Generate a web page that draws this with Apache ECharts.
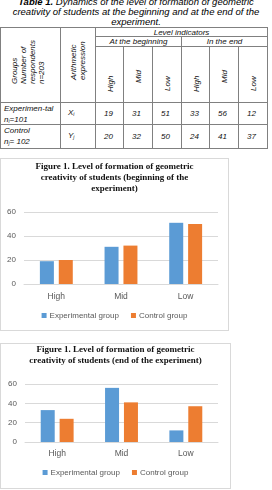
<!DOCTYPE html>
<html>
<head>
<meta charset="utf-8">
<script src="https://cdn.jsdelivr.net/npm/echarts@6/dist/echarts.min.js"></script>
<style>
  body { margin: 0; width: 272px; height: 490px; overflow: hidden; background: #fff; position: relative;
         font-family: "Liberation Sans", Arial, sans-serif; }
  #caption { position: absolute; left: 0; top: -3px; width: 272px; text-align: center; font-style: italic;
             font-size: 9.5px; line-height: 10px; color: #000; }
  #table { position: absolute; left: 0; top: 27px; width: 268px; height: 122px; }
  .cell { position: absolute; box-sizing: border-box; border-right: 1px solid #808080; border-bottom: 1px solid #808080;
          font-style: italic; font-size: 8px; color: #111; white-space: nowrap; }
  .rot { position: absolute; white-space: pre; transform: rotate(-90deg); transform-origin: 0 0;
         font-style: italic; font-size: 8px; color: #111; }
  .box { position: absolute; left: 0; box-sizing: border-box; border: 1px solid #d9d9d9; }
  .box > div { width: 100%; height: 100%; }
</style>
</head>
<body>
<div id="caption"><b>Table 1.</b> Dynamics of the level of formation of geometric<br>creativity of students at the beginning and at the end of the<br>experiment.</div>
<div id="table"></div>
<div class="box" style="top:158px;width:229px;height:173px;"><div id="chartBegin"></div></div>
<div class="box" style="top:343px;width:231px;height:146px;"><div id="chartEnd"></div></div>

<script>
const levels = ['High', 'Mid', 'Low'];
const seriesNames = ['Experimental group', 'Control group'];
const beginExperimental = [19, 31, 51];
const beginControl = [20, 32, 50];
const endExperimental = [33, 56, 12];
const endControl = [24, 41, 37];

// table grid lines (px, relative to the table box)
const colX = [0, 61, 96, 124, 153, 182, 210, 239, 268];
const rowY = [0, 10, 20, 76, 98, 122];

function addCell(parent, c0, c1, r0, r1, html, style) {
  const d = document.createElement('div');
  d.className = 'cell';
  d.style.left = colX[c0] + 'px';
  d.style.top = rowY[r0] + 'px';
  d.style.width = (colX[c1] - colX[c0]) + 'px';
  d.style.height = (rowY[r1] - rowY[r0]) + 'px';
  if (c0 === 0) d.style.borderLeft = '1px solid #808080';
  if (r0 === 0) d.style.borderTop = '1px solid #808080';
  d.innerHTML = html;
  Object.assign(d.style, style || {});
  parent.appendChild(d);
  return d;
}

function addRotated(parent, text, left, start, lineHeight) {
  const d = document.createElement('div');
  d.className = 'rot';
  d.style.left = left + 'px';
  d.style.top = start + 'px';
  d.style.lineHeight = lineHeight + 'px';
  d.textContent = text;
  parent.appendChild(d);
}

function buildTable() {
  const t = document.getElementById('table');
  addCell(t, 0, 1, 0, 3, '');
  addCell(t, 1, 2, 0, 3, '');
  addCell(t, 2, 8, 0, 1, 'Level indicators', { textAlign: 'center', lineHeight: '9px' });
  addCell(t, 2, 5, 1, 2, 'At the beginning', { textAlign: 'center', lineHeight: '9px' });
  addCell(t, 5, 8, 1, 2, 'In the end', { textAlign: 'center', lineHeight: '9px' });

  addRotated(t, 'Groups\nNumber of\nrespondents\nn=203', 10, 57, 9);
  addRotated(t, 'Arithmetic\nexpression', 69.5, 53, 8.5);

  const labelStart = { High: 65, Mid: 56, Low: 64 };
  for (let k = 0; k < 6; k++) {
    const lvl = levels[k % 3];
    addCell(t, 2 + k, 3 + k, 2, 3, '');
    const cx = (colX[2 + k] + colX[3 + k]) / 2;
    addRotated(t, lvl, cx - 4.5, labelStart[lvl], 9);
  }

  const rows = [
    { group: 'Experimen-tal<br>n<sub>i</sub>=101', expr: 'X<sub>i</sub>', vals: beginExperimental.concat(endExperimental) },
    { group: 'Control<br>n<sub>j</sub>= 102', expr: 'Y<sub>j</sub>', vals: beginControl.concat(endControl) }
  ];
  rows.forEach((row, i) => {
    const r = 3 + i;
    const h = rowY[r + 1] - rowY[r];
    addCell(t, 0, 1, r, r + 1, row.group, { lineHeight: '11px', paddingLeft: '3px', paddingTop: '0px' });
    addCell(t, 1, 2, r, r + 1, row.expr, { lineHeight: (h - 2) + 'px', paddingLeft: '7px' });
    row.vals.forEach((v, k) => {
      addCell(t, 2 + k, 3 + k, r, r + 1, String(v), { lineHeight: (h - 1) + 'px', paddingLeft: '8px' });
    });
  });
  t.querySelectorAll('sub').forEach(s => { s.style.fontSize = '5px'; s.style.verticalAlign = '-1px'; });
}

function buildBarOptions(title, expData, ctrlData, layout) {
  return {
    animation: false,
    title: {
      text: title,
      left: 'center',
      top: layout.titleTop,
      padding: 0,
      textStyle: { fontFamily: 'Liberation Serif', fontWeight: 'bold', fontSize: 9, lineHeight: 11, color: '#111' }
    },
    legend: {
      data: seriesNames,
      top: layout.legendTop,
      left: 'center',
      padding: 0,
      icon: 'rect',
      itemWidth: 5,
      itemHeight: 5,
      itemGap: 12,
      textStyle: { fontFamily: 'Liberation Sans', fontSize: 8, color: '#595959', padding: [0, 0, 0, -2] }
    },
    grid: { top: layout.gridTop, bottom: layout.gridBottom, left: layout.gridLeft, right: layout.gridRight },
    xAxis: {
      type: 'category',
      data: levels,
      axisLine: { lineStyle: { color: '#d9d9d9' } },
      axisTick: { show: false },
      axisLabel: { fontFamily: 'Liberation Sans', fontSize: 8.5, color: '#595959', margin: layout.xMargin }
    },
    yAxis: {
      type: 'value',
      min: 0,
      max: 60,
      interval: 20,
      axisLabel: { fontFamily: 'Liberation Sans', fontSize: 8, color: '#595959', margin: 8 },
      splitLine: { lineStyle: { color: '#d9d9d9' } }
    },
    series: [
      { name: seriesNames[0], type: 'bar', data: expData, barWidth: 14, barGap: '35%', itemStyle: { color: '#5b9bd5' } },
      { name: seriesNames[1], type: 'bar', data: ctrlData, barWidth: 14, itemStyle: { color: '#ed7d31' } }
    ]
  };
}

buildTable();

const chartBegin = echarts.init(document.getElementById('chartBegin'), null, { renderer: 'canvas' });
chartBegin.setOption(buildBarOptions(
  'Figure 1. Level of formation of geometric\ncreativity of students (beginning of the\nexperiment)',
  beginExperimental, beginControl,
  { titleTop: 2.5, legendTop: 152.5, gridTop: 53, gridBottom: 46, gridLeft: 23, gridRight: 10, xMargin: 8 }
));

const chartEnd = echarts.init(document.getElementById('chartEnd'), null, { renderer: 'canvas' });
chartEnd.setOption(buildBarOptions(
  'Figure 1. Level of formation of geometric\ncreativity of students (end of the experiment)',
  endExperimental, endControl,
  { titleTop: 0.5, legendTop: 124.5, gridTop: 40, gridBottom: 46, gridLeft: 24, gridRight: 12, xMargin: 7 }
));
</script>
</body>
</html>
